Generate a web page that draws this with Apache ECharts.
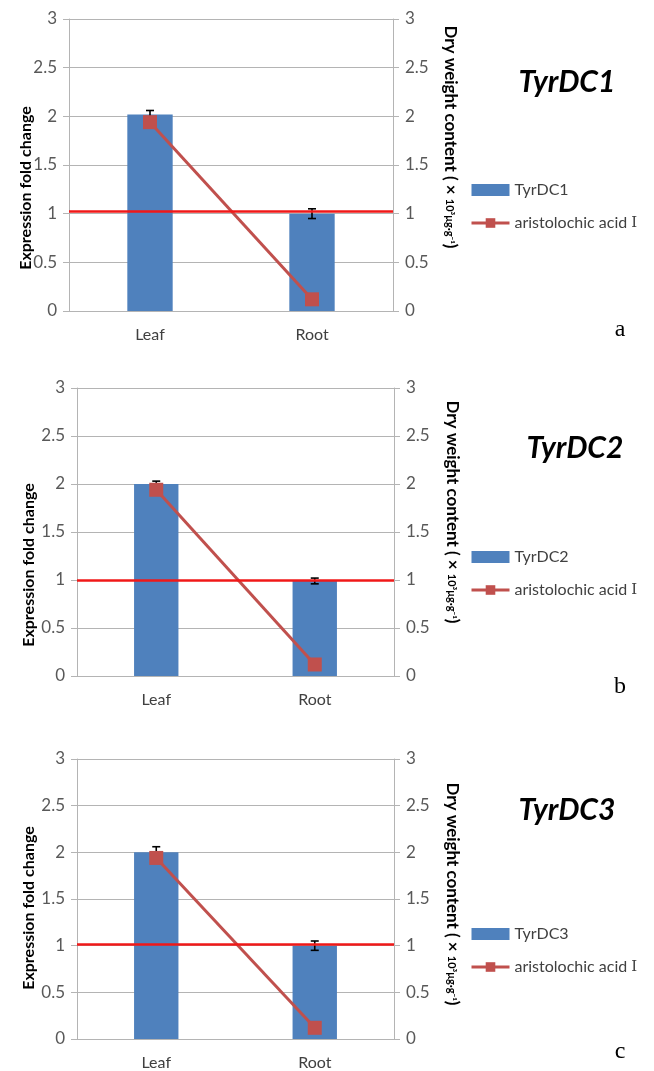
<!DOCTYPE html>
<html>
<head>
<meta charset="utf-8">
<script src="https://cdn.jsdelivr.net/npm/echarts@6/dist/echarts.min.js"></script>
<style>
  html, body { margin: 0; padding: 0; background: #fff; }
  #chart { width: 654px; height: 1071px; }
</style>
</head>
<body>
<div id="chart"></div>
<script>
// Tissue categories and gene panels
const categories = ['Leaf', 'Root'];
const panelGenes = ['TyrDC1', 'TyrDC2', 'TyrDC3'];
const panelLetters = ['a', 'b', 'c'];
const acidName = 'aristolochic acid Ⅰ';
const leftAxisName = 'Expression fold change';

// Relative expression (fold change) and its error, per panel [Leaf, Root]
const expressionFold = [[2.02, 1.00], [2.00, 0.99], [2.00, 1.00]];
const expressionErr = [[0.04, 0.05], [0.03, 0.03], [0.06, 0.05]];

// Aristolochic acid I dry weight content (×10³ μg·g⁻¹), per panel [Leaf, Root]
const acidContent = [[1.94, 0.12], [1.94, 0.12], [1.94, 0.12]];

// Reference level drawn as the red horizontal line in each panel
const baselineLevel = [1.02, 1.00, 1.02];

// Shared axis range
const axisMin = 0, axisMax = 3, axisStep = 0.5;

// Panel layout (pixels)
const layout = [
  { left: 69, top: 19,  width: 324, height: 292, titleX: 567, titleY: 82,  letterX: 620, letterY: 330,  legendTop: 177, leftName: [26, 188], rightName: [450, 137] },
  { left: 77, top: 388, width: 317, height: 288, titleX: 575, titleY: 448, letterX: 620, letterY: 687,  legendTop: 544, leftName: [29, 565], rightName: [452, 512] },
  { left: 77, top: 759, width: 317, height: 281, titleX: 567, titleY: 810, letterX: 620, letterY: 1052, legendTop: 921, leftName: [29, 908], rightName: [452, 894] }
];

const BLUE = '#4F81BD', BROWN_RED = '#C0504D', RED = '#F01818', GRID = '#B4B4B4';
const FONT = 'Lato, "Open Sans", sans-serif';

function renderErrorBar(params, api) {
  const x = api.value(0), y = api.value(1), e = api.value(2);
  const hi = api.coord([x, y + e]);
  const lo = api.coord([x, y - e]);
  const cap = 4;
  const style = { stroke: '#000', lineWidth: 1.6 };
  return {
    type: 'group',
    children: [
      { type: 'line', shape: { x1: hi[0], y1: hi[1], x2: lo[0], y2: lo[1] }, style },
      { type: 'line', shape: { x1: hi[0] - cap, y1: hi[1], x2: hi[0] + cap, y2: hi[1] }, style },
      { type: 'line', shape: { x1: lo[0] - cap, y1: lo[1], x2: lo[0] + cap, y2: lo[1] }, style }
    ]
  };
}

const grids = [], xAxes = [], yAxes = [], series = [], legends = [], graphics = [];

layout.forEach((p, i) => {
  grids.push({ left: p.left, top: p.top, width: p.width, height: p.height, containLabel: false });

  xAxes.push({
    type: 'category', gridIndex: i, data: categories,
    axisLine: { lineStyle: { color: GRID, width: 1 } },
    axisTick: { show: false },
    axisLabel: { color: '#404040', fontFamily: FONT, fontSize: 16, margin: 16 }
  });

  const valueAxisCommon = {
    type: 'value', gridIndex: i, min: axisMin, max: axisMax, interval: axisStep,
    axisLine: { show: true, lineStyle: { color: GRID, width: 1 } },
    axisTick: { show: true, inside: false, length: 6, lineStyle: { color: GRID } },
    axisLabel: { color: '#595959', fontFamily: FONT, fontSize: 17, margin: 12 }
  };

  yAxes.push(Object.assign({}, valueAxisCommon, {
    position: 'left',
    splitLine: { show: true, lineStyle: { color: GRID, width: 1 } }
  }));

  yAxes.push(Object.assign({}, valueAxisCommon, {
    position: 'right',
    splitLine: { show: false }
  }));

  series.push({
    name: panelGenes[i], type: 'bar',
    xAxisIndex: i, yAxisIndex: 2 * i,
    barWidth: '28%',
    itemStyle: { color: BLUE },
    data: expressionFold[i],
    z: 2,
    markLine: {
      silent: true, symbol: 'none',
      label: { show: false },
      lineStyle: { color: RED, width: 2.5, type: 'solid' },
      data: [{ yAxis: baselineLevel[i] }]
    }
  });

  series.push({
    name: panelGenes[i] + ' error', type: 'custom',
    xAxisIndex: i, yAxisIndex: 2 * i,
    renderItem: renderErrorBar,
    encode: { x: 0, y: 1 },
    data: expressionFold[i].map((v, k) => [k, v, expressionErr[i][k]]),
    z: 3
  });

  series.push({
    name: acidName, type: 'line',
    xAxisIndex: i, yAxisIndex: 2 * i + 1,
    symbol: 'rect', symbolSize: 14,
    itemStyle: { color: BROWN_RED },
    lineStyle: { color: BROWN_RED, width: 3 },
    data: acidContent[i],
    z: 4
  });

  legends.push({
    orient: 'vertical', left: 465, top: p.legendTop,
    itemWidth: 38, itemHeight: 12, itemGap: 17,
    selectedMode: false,
    formatter: name => name === acidName ? 'aristolochic acid {r|Ⅰ}' : name,
    textStyle: {
      color: '#404040', fontFamily: FONT, fontSize: 16,
      rich: { r: { color: '#404040', fontFamily: '"DejaVu Serif", "Liberation Serif", serif', fontSize: 15 } }
    },
    data: [
      { name: panelGenes[i], icon: 'rect' },
      { name: acidName, lineStyle: { width: 3, color: BROWN_RED } }
    ]
  });

  // Gene title and panel letter
  graphics.push({
    type: 'text', x: p.titleX, y: p.titleY,
    style: { text: panelGenes[i], fill: '#000', font: 'italic bold 30px ' + FONT, textAlign: 'center', textVerticalAlign: 'middle' }
  });
  graphics.push({
    type: 'text', x: p.letterX, y: p.letterY,
    style: { text: panelLetters[i], fill: '#000', font: '24px "Liberation Serif", "Times New Roman", serif', textAlign: 'center', textVerticalAlign: 'middle' }
  });

  // Axis titles
  graphics.push({
    type: 'text', x: p.leftName[0], y: p.leftName[1], rotation: Math.PI / 2,
    style: { text: leftAxisName, fill: '#000', font: 'bold 16px ' + FONT, textAlign: 'center', textVerticalAlign: 'middle' }
  });
  graphics.push({
    type: 'text', x: p.rightName[0], y: p.rightName[1], rotation: -Math.PI / 2,
    style: {
      text: '{n|Dry weight content ( × }{s|10³μg·g⁻¹}{n|)}',
      textAlign: 'center', textVerticalAlign: 'middle',
      rich: {
        n: { fill: '#000', fontFamily: FONT, fontWeight: 'bold', fontSize: 17 },
        s: { fill: '#000', fontFamily: FONT, fontWeight: 'bold', fontSize: 11 }
      }
    }
  });
});

const chart = echarts.init(document.getElementById('chart'), null, { renderer: 'canvas' });
chart.setOption({
  animation: false,
  backgroundColor: '#fff',
  grid: grids,
  xAxis: xAxes,
  yAxis: yAxes,
  legend: legends,
  series: series,
  graphic: graphics
});
</script>
</body>
</html>
